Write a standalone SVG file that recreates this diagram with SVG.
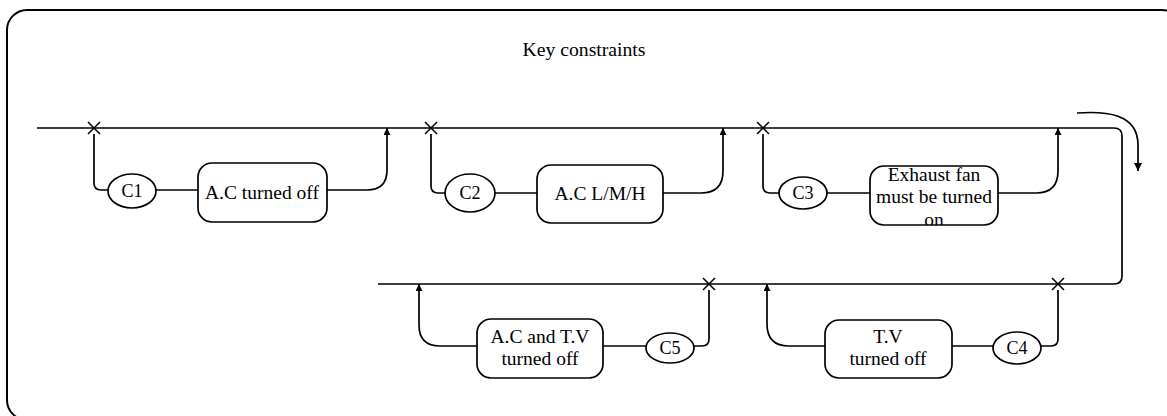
<svg xmlns="http://www.w3.org/2000/svg" width="1167" height="416" viewBox="0 0 1167 416">
<style>
.frame{fill:none;stroke:#000;stroke-width:2}
.ln{fill:none;stroke:#000;stroke-width:1.7}
.box{fill:#fff;stroke:#000;stroke-width:1.7}
.cross{stroke:#000;stroke-width:1.5;fill:none}
text{font-family:"Liberation Serif","Times New Roman",serif;fill:#000;text-anchor:middle}
.t{font-size:19.5px}
.c{font-size:18px}
.title{font-size:19.7px}
</style>
<defs>
<marker id="arr" viewBox="0 0 10 10" refX="10" refY="5" markerWidth="10" markerHeight="7" markerUnits="userSpaceOnUse" orient="auto">
<path d="M0,0 L10,5 L0,10 Z" fill="#000"/>
</marker>
<marker id="arr2" viewBox="0 0 10 10" refX="10" refY="5" markerWidth="10" markerHeight="8" markerUnits="userSpaceOnUse" orient="auto">
<path d="M0,0 L10,5 L0,10 Z" fill="#000"/>
</marker>
<clipPath id="clip3"><rect x="870" y="166" width="128" height="59" rx="14"/></clipPath>
</defs>
<rect width="1167" height="416" fill="#fff"/>
<rect class="frame" x="7" y="10" width="1175" height="410" rx="20"/>
<text class="title" x="584" y="56">Key constraints</text>
<g id="connectors">
<path class="ln" d="M37,128 L1114,128 Q1122,128 1122,136 L1122,276 Q1122,284 1114,284 L378,284"/>
<path class="ln" d="M1077,113 C1105,111 1138,113 1138,145 L1138,171" marker-end="url(#arr2)"/>
<path class="ln" d="M94,134 L94,183 Q94,190 101,190 L108,190"/>
<path class="ln" d="M156,190 L198,190"/>
<path class="ln" d="M327,190 L367,190 Q387,190 387,170 L387,128" marker-end="url(#arr)"/>
<path class="ln" d="M431,134 L431,186 Q431,193 438,193 L445,193"/>
<path class="ln" d="M495,193 L537,193"/>
<path class="ln" d="M663,193 L701,193 Q723,193 723,171 L723,128" marker-end="url(#arr)"/>
<path class="ln" d="M763,134 L763,186 Q763,193 770,193 L779,193"/>
<path class="ln" d="M827,193 L870,193"/>
<path class="ln" d="M998,193 L1036,193 Q1058,193 1058,171 L1058,128" marker-end="url(#arr)"/>
<path class="ln" d="M477,346 L440,346 Q419,346 419,325 L419,284" marker-end="url(#arr)"/>
<path class="ln" d="M603,346 L646,346"/>
<path class="ln" d="M694,346 L702,346 Q709,346 709,339 L709,290"/>
<path class="ln" d="M825,346 L789,346 Q767,346 767,324 L767,284" marker-end="url(#arr)"/>
<path class="ln" d="M952,346 L993,346"/>
<path class="ln" d="M1041,346 L1051,346 Q1058,346 1058,339 L1058,290"/>
<path class="cross" d="M88,122 L100,134 M100,122 L88,134"/>
<path class="cross" d="M425,122 L437,134 M437,122 L425,134"/>
<path class="cross" d="M757,122 L769,134 M769,122 L757,134"/>
<path class="cross" d="M703,278 L715,290 M715,278 L703,290"/>
<path class="cross" d="M1052,278 L1064,290 M1064,278 L1052,290"/>
</g>
<g id="c1"><ellipse class="box" cx="132" cy="191" rx="24" ry="17"/><text class="c" x="132" y="197">C1</text></g>
<g id="n1"><rect class="box" x="198" y="163" width="129" height="59" rx="14"/><text class="t" x="262" y="199">A.C turned off</text></g>
<g id="c2"><ellipse class="box" cx="470" cy="193" rx="25" ry="19"/><text class="c" x="470" y="199">C2</text></g>
<g id="n2"><rect class="box" x="537" y="165" width="126" height="58" rx="14"/><text class="t" x="600" y="200">A.C L/M/H</text></g>
<g id="c3"><ellipse class="box" cx="803" cy="193" rx="24" ry="16"/><text class="c" x="803" y="199">C3</text></g>
<g id="n3"><rect class="box" x="870" y="166" width="128" height="59" rx="14"/>
<g clip-path="url(#clip3)"><text class="t" x="934" y="181">Exhaust fan</text><text class="t" x="934" y="203">must be turned</text><text class="t" x="934" y="226">on</text></g></g>
<g id="n4"><rect class="box" x="477" y="319" width="126" height="59" rx="14"/><text class="t" x="540" y="343">A.C and T.V</text><text class="t" x="540" y="365">turned off</text></g>
<g id="c5"><ellipse class="box" cx="670" cy="348" rx="24" ry="15"/><text class="c" x="670" y="354">C5</text></g>
<g id="n5"><rect class="box" x="825" y="320" width="127" height="58" rx="14"/><text class="t" x="888" y="343">T.V</text><text class="t" x="888" y="365">turned off</text></g>
<g id="c4"><ellipse class="box" cx="1017" cy="348" rx="24" ry="16"/><text class="c" x="1017" y="354">C4</text></g>
</svg>
